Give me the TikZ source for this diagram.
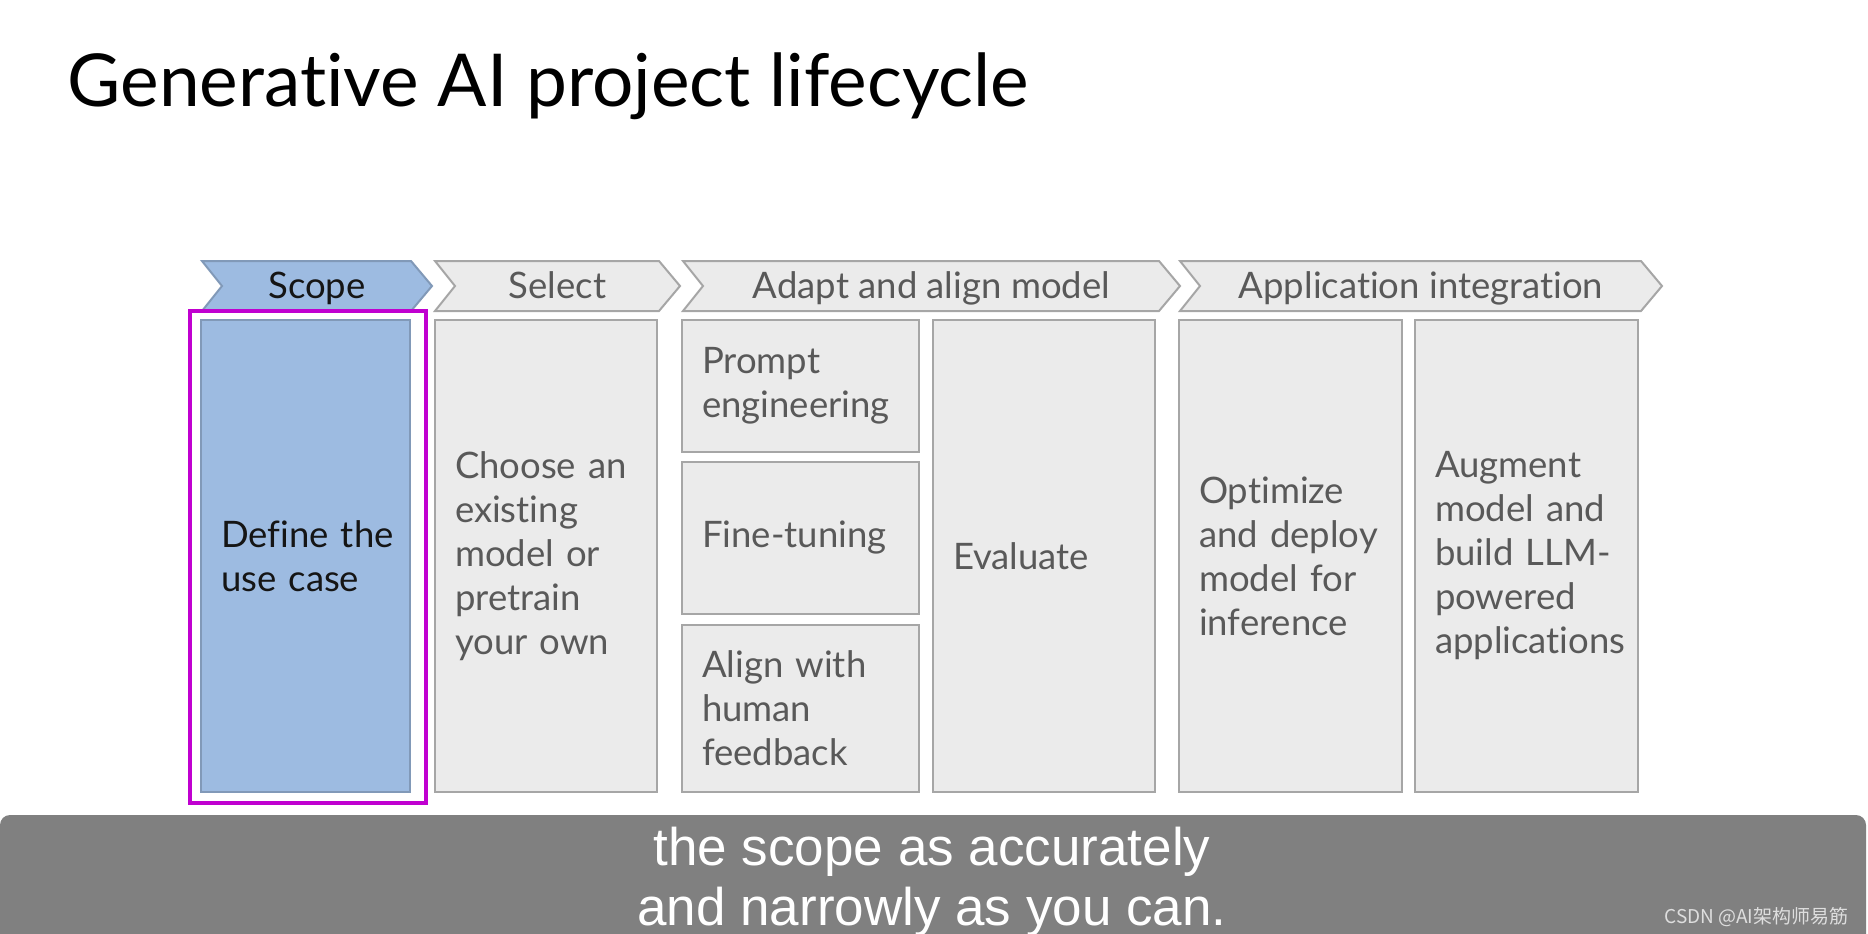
\documentclass[tikz,border=0pt]{standalone}
\usepackage{fontspec}
\setmainfont{Lato}[Ligatures = NoCommon]
\newfontfamily\captionfont{Liberation Sans}
\newfontfamily\cjkfont{Noto Sans CJK SC}

\definecolor{scopeblue}{HTML}{9DBBE1}
\definecolor{scopeedge}{HTML}{8199B8}
\definecolor{boxgray}{HTML}{EBEBEB}
\definecolor{edgegray}{HTML}{A6A6A6}
\definecolor{textgray}{HTML}{595959}
\definecolor{darktext}{HTML}{151515}
\definecolor{framemagenta}{RGB}{192,0,208}
\definecolor{captiongray}{HTML}{808080}
\definecolor{markgray}{HTML}{DEDEDE}

\tikzset{
    banner/.style = {line width = 2pt, line join = miter},
    bannertext/.style = {anchor = base, font = \fontsize{36.5}{36.5}\selectfont},
    stage/.style = {draw = edgegray, line width = 2pt, fill = boxgray, text = textgray,
        font = \fontsize{36.5}{44}\selectfont, align = left, inner xsep = 20pt, inner ysep = 0pt},
}

\begin{document}
\begin{tikzpicture}[x = 1pt, y = -1pt]
    \useasboundingbox (0, 0) rectangle (1868, 934);

    \node [anchor = base west, font = \fontsize{73}{73}\selectfont, text = black] (title) at (64, 106) {Generative AI project lifecycle};

    \foreach \l/\r/\n/\t/\c/\e/\k in {202/432/scope/Scope/scopeblue/scopeedge/darktext,
        435/680/select/Select/boxgray/edgegray/textgray,
        683/1180/adapt/Adapt and align model/boxgray/edgegray/textgray,
        1180/1662/app/Application integration/boxgray/edgegray/textgray} {
        \draw [banner, draw = \e, fill = \c] (\l, 261) -- (\r - 21, 261) -- (\r, 286) -- (\r - 21, 311) -- (\l, 311) -- (\l + 20, 286) -- cycle;
        \node [bannertext, text = \k] (\n) at ({(\l + \r) / 2}, 298) {\t};
    }

    \draw [framemagenta, line width = 3.5pt] (190, 311) rectangle (426, 803);

    \node [stage, fill = scopeblue, draw = scopeedge, text = darktext, minimum width = 209pt, minimum height = 472pt, text width = 169pt] (define) at (305.5, 556) {\mbox{Define the}\\use case};
    \node [stage, minimum width = 222pt, minimum height = 472pt, text width = 182pt] (choose) at (546, 556) {Choose an\\existing\\model or\\pretrain\\your own};
    \node [stage, minimum width = 237pt, minimum height = 132pt, text width = 197pt] (prompt) at (800.5, 386) {Prompt\\engineering};
    \node [stage, minimum width = 237pt, minimum height = 152pt, text width = 197pt] (finetune) at (800.5, 538) {Fine-tuning};
    \node [stage, minimum width = 237pt, minimum height = 167pt, text width = 197pt] (feedback) at (800.5, 708.5) {Align with\\human\\feedback};
    \node [stage, minimum width = 222pt, minimum height = 472pt, text width = 182pt] (evaluate) at (1044, 556) {Evaluate};
    \node [stage, minimum width = 223pt, minimum height = 472pt, text width = 183pt] (optimize) at (1290.5, 556) {Optimize\\and deploy\\model for\\inference};
    \node [stage, minimum width = 223pt, minimum height = 472pt, text width = 183pt] (augment) at (1526.5, 556) {Augment\\model and\\build LLM-\\powered\\applications};

    \fill [captiongray, rounded corners = 10pt] (0, 934) -- (0, 815) -- (1866, 815) -- (1866, 934);
    \node [anchor = base, font = \captionfont\fontsize{53}{60}\selectfont, text = white, align = center] (caption) at (932, 925) {the scope as accurately\\and narrowly as you can.};
    \node [anchor = base east, font = \cjkfont\fontsize{19}{19}\selectfont, text = markgray] (mark) at (1852, 923) {CSDN @AI架构师易筋};
\end{tikzpicture}
\end{document}
